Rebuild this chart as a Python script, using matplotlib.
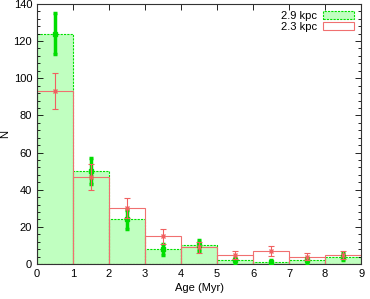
import matplotlib
matplotlib.use("Agg")
import matplotlib.pyplot as plt
from matplotlib.ticker import MultipleLocator
from matplotlib.patches import Patch

plt.rcParams['font.family'] = ['Liberation Sans', 'DejaVu Sans']

bin_left = [0, 1, 2, 3, 4, 5, 6, 7, 8]
bin_center = [0.5, 1.5, 2.5, 3.5, 4.5, 5.5, 6.5, 7.5, 8.5]
n_29 = [124, 50, 24, 8, 10, 2, 1, 2, 4]
err_29 = [11, 7, 5, 3, 3, 1.4, 1, 1.4, 2]
n_23 = [93, 47, 30, 15, 9, 5, 7, 4, 5]
err_23 = [9.6, 7, 5.5, 4, 3, 2.2, 2.6, 2, 2.2]
label_29 = "2.9 kpc"
label_23 = "2.3 kpc"

fig = plt.figure(figsize=(3.7, 2.99), dpi=100)
ax = fig.add_axes([0.1, 0.117, 0.876, 0.87])

green_fill = '#c0ffc0'
green_edge = '#00e000'
red_edge = '#f07070'

ax.bar(bin_left, n_29, width=1, align='edge', color=green_fill,
       edgecolor=green_edge, linewidth=0.8, linestyle=(0, (2, 1)), zorder=1)
ax.bar(bin_left, n_23, width=1, align='edge', fill=False,
       edgecolor=red_edge, linewidth=0.8, zorder=2)

ax.errorbar(bin_center, n_29, yerr=err_29, fmt='s', color='#00dd00',
            markersize=2.5, elinewidth=2.5, capsize=1.2, capthick=2.5, zorder=3)
ax.errorbar(bin_center, n_23, yerr=err_23, fmt='x', color='#f06060',
            markersize=3, elinewidth=0.8, capsize=2, capthick=0.8, zorder=4)

ax.set_xlim(0, 9)
ax.set_ylim(0, 140)
ax.xaxis.set_major_locator(MultipleLocator(1))
ax.yaxis.set_major_locator(MultipleLocator(20))
ax.yaxis.set_minor_locator(MultipleLocator(4))
ax.tick_params(which='both', direction='in', top=True, right=True, labelsize=8)
ax.tick_params(which='major', length=4, width=0.6)
ax.tick_params(which='minor', length=2, width=0.6)
for s in ax.spines.values():
    s.set_linewidth(0.8)
    s.set_color('#333333')

ax.set_xlabel("Age (Myr)", fontsize=8, labelpad=3)
ax.set_ylabel("N", fontsize=8)
ax.yaxis.set_label_coords(-0.082, 0.5)

handles = [Patch(facecolor=green_fill, edgecolor=green_edge, linestyle=(0, (2, 1)), linewidth=0.8),
           Patch(facecolor='white', edgecolor=red_edge, linewidth=0.8)]
leg = ax.legend(handles, [label_29, label_23], loc='upper right', frameon=False,
                fontsize=8, markerfirst=False, handlelength=2.8, handleheight=0.7,
                borderaxespad=0.2, labelspacing=0.1, handletextpad=0.6)

fig.savefig("out.png", dpi=100)
